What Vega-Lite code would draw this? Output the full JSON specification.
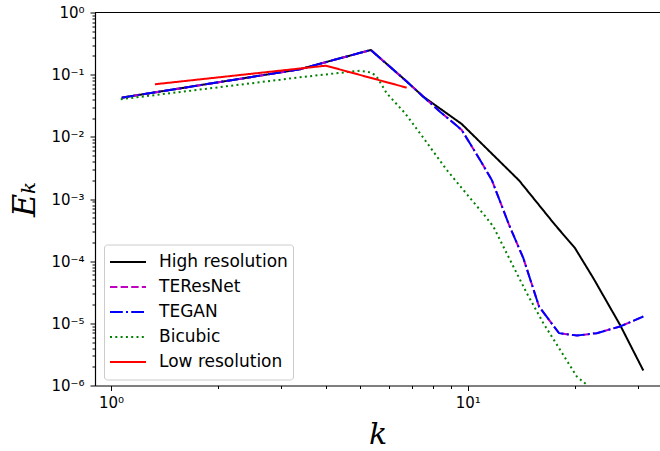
{
  "$schema": "https://vega.github.io/schema/vega-lite/v6.json",
  "width": 565,
  "height": 373,
  "autosize": "none",
  "padding": {"left": 95, "top": 12.5, "right": 0, "bottom": 65.5},
  "background": "white",
  "config": {"view": {"stroke": null}},
  "data": {"values": [
    {"series": "High resolution", "k": 1.072, "E": 0.0427},
    {"series": "High resolution", "k": 3.388, "E": 0.1222},
    {"series": "High resolution", "k": 4.111, "E": 0.166},
    {"series": "High resolution", "k": 5.348, "E": 0.2495},
    {"series": "High resolution", "k": 6.673, "E": 0.0822},
    {"series": "High resolution", "k": 7.506, "E": 0.0443},
    {"series": "High resolution", "k": 9.62, "E": 0.0161},
    {"series": "High resolution", "k": 13.93, "E": 0.00199},
    {"series": "High resolution", "k": 17.57, "E": 0.000384},
    {"series": "High resolution", "k": 19.99, "E": 0.000162},
    {"series": "High resolution", "k": 22.5, "E": 0.0000533},
    {"series": "High resolution", "k": 26.73, "E": 0.00000946},
    {"series": "High resolution", "k": 31.07, "E": 0.00000174},

    {"series": "TEResNet", "k": 1.072, "E": 0.0427},
    {"series": "TEResNet", "k": 3.388, "E": 0.1222},
    {"series": "TEResNet", "k": 4.111, "E": 0.166},
    {"series": "TEResNet", "k": 5.348, "E": 0.2495},
    {"series": "TEResNet", "k": 6.673, "E": 0.0822},
    {"series": "TEResNet", "k": 7.506, "E": 0.0443},
    {"series": "TEResNet", "k": 8.364, "E": 0.0254},
    {"series": "TEResNet", "k": 9.62, "E": 0.0129},
    {"series": "TEResNet", "k": 10.83, "E": 0.00425},
    {"series": "TEResNet", "k": 11.68, "E": 0.00203},
    {"series": "TEResNet", "k": 13.06, "E": 0.000384},
    {"series": "TEResNet", "k": 14.32, "E": 0.000112},
    {"series": "TEResNet", "k": 15.85, "E": 0.0000186},
    {"series": "TEResNet", "k": 18.03, "E": 0.00000695},
    {"series": "TEResNet", "k": 20.25, "E": 0.00000636},
    {"series": "TEResNet", "k": 23.0, "E": 0.00000695},
    {"series": "TEResNet", "k": 26.73, "E": 0.00000889},
    {"series": "TEResNet", "k": 31.07, "E": 0.0000129},

    {"series": "TEGAN", "k": 1.072, "E": 0.0427},
    {"series": "TEGAN", "k": 3.388, "E": 0.1222},
    {"series": "TEGAN", "k": 4.111, "E": 0.166},
    {"series": "TEGAN", "k": 5.348, "E": 0.2495},
    {"series": "TEGAN", "k": 6.673, "E": 0.0822},
    {"series": "TEGAN", "k": 7.506, "E": 0.0443},
    {"series": "TEGAN", "k": 8.364, "E": 0.0254},
    {"series": "TEGAN", "k": 9.62, "E": 0.0129},
    {"series": "TEGAN", "k": 10.83, "E": 0.00425},
    {"series": "TEGAN", "k": 11.68, "E": 0.00203},
    {"series": "TEGAN", "k": 13.06, "E": 0.000384},
    {"series": "TEGAN", "k": 14.32, "E": 0.000112},
    {"series": "TEGAN", "k": 15.85, "E": 0.0000186},
    {"series": "TEGAN", "k": 18.03, "E": 0.00000695},
    {"series": "TEGAN", "k": 20.25, "E": 0.00000636},
    {"series": "TEGAN", "k": 23.0, "E": 0.00000695},
    {"series": "TEGAN", "k": 26.73, "E": 0.00000889},
    {"series": "TEGAN", "k": 31.07, "E": 0.0000129},

    {"series": "Bicubic", "k": 1.065, "E": 0.0402},
    {"series": "Bicubic", "k": 3.388, "E": 0.0908},
    {"series": "Bicubic", "k": 4.111, "E": 0.1026},
    {"series": "Bicubic", "k": 4.99, "E": 0.116},
    {"series": "Bicubic", "k": 5.382, "E": 0.1076},
    {"series": "Bicubic", "k": 5.558, "E": 0.0929},
    {"series": "Bicubic", "k": 5.929, "E": 0.0502},
    {"series": "Bicubic", "k": 6.673, "E": 0.024},
    {"series": "Bicubic", "k": 7.349, "E": 0.01142},
    {"series": "Bicubic", "k": 8.732, "E": 0.00294},
    {"series": "Bicubic", "k": 9.72, "E": 0.0014},
    {"series": "Bicubic", "k": 11.18, "E": 0.000535},
    {"series": "Bicubic", "k": 11.8, "E": 0.00036},
    {"series": "Bicubic", "k": 13.14, "E": 0.000105},
    {"series": "Bicubic", "k": 14.64, "E": 0.0000306},
    {"series": "Bicubic", "k": 16.29, "E": 0.0000101},
    {"series": "Bicubic", "k": 18.15, "E": 0.00000375},
    {"series": "Bicubic", "k": 20.21, "E": 0.0000014},
    {"series": "Bicubic", "k": 21.56, "E": 0.00000103},
    {"series": "Bicubic", "k": 22.5, "E": 0.0000007},

    {"series": "Low resolution", "k": 1.328, "E": 0.0701},
    {"series": "Low resolution", "k": 4.006, "E": 0.1395},
    {"series": "Low resolution", "k": 6.745, "E": 0.0618}
  ]},
  "layer": [
    {
      "mark": {"type": "rule", "color": "#000000", "strokeWidth": 1.2},
      "encoding": {"y": {"datum": 1, "type": "quantitative", "scale": {"type": "log"}}}
    },
    {
      "mark": {"type": "line", "clip": true, "strokeWidth": 2},
      "encoding": {
        "x": {
          "field": "k", "type": "quantitative",
          "scale": {"type": "log", "domain": [0.902, 34.6], "nice": false},
          "axis": {
            "title": "k",
            "titleFont": "DejaVu Serif", "titleFontStyle": "italic", "titleFontWeight": "normal",
            "titleFontSize": 30, "titleColor": "#000000", "titlePadding": 9,
            "values": [1, 2, 3, 4, 5, 6, 7, 8, 9, 10, 20, 30],
            "labelExpr": "datum.value == 1 ? '10⁰' : datum.value == 10 ? '10¹' : ''",
            "labelFont": "DejaVu Sans", "labelFontSize": 15, "labelColor": "#000000",
            "labelPadding": 5, "labelOverlap": false, "labelFlush": false,
            "tickSize": {"condition": {"test": "datum.value == 1 || datum.value == 10", "value": 5}, "value": 3},
            "tickColor": "#000000", "tickWidth": 1,
            "domainColor": "#000000", "domainWidth": 1.2, "grid": false
          }
        },
        "y": {
          "field": "E", "type": "quantitative",
          "scale": {"type": "log", "domain": [0.000001, 1], "nice": false},
          "axis": {
            "title": "Eₖ",
            "titleFont": "DejaVu Serif", "titleFontStyle": "italic", "titleFontWeight": "normal",
            "titleFontSize": 32, "titleColor": "#000000", "titlePadding": 9,
            "values": [0.000001, 0.000002, 0.000003, 0.000004, 0.000005, 0.000006, 0.000007, 0.000008, 0.000009,
                       0.00001, 0.00002, 0.00003, 0.00004, 0.00005, 0.00006, 0.00007, 0.00008, 0.00009,
                       0.0001, 0.0002, 0.0003, 0.0004, 0.0005, 0.0006, 0.0007, 0.0008, 0.0009,
                       0.001, 0.002, 0.003, 0.004, 0.005, 0.006, 0.007, 0.008, 0.009,
                       0.01, 0.02, 0.03, 0.04, 0.05, 0.06, 0.07, 0.08, 0.09,
                       0.1, 0.2, 0.3, 0.4, 0.5, 0.6, 0.7, 0.8, 0.9, 1],
            "labelExpr": "datum.value == 1 ? '10⁰' : datum.value == 0.1 ? '10⁻¹' : datum.value == 0.01 ? '10⁻²' : datum.value == 0.001 ? '10⁻³' : datum.value == 0.0001 ? '10⁻⁴' : datum.value == 0.00001 ? '10⁻⁵' : datum.value == 0.000001 ? '10⁻⁶' : ''",
            "labelFont": "DejaVu Sans", "labelFontSize": 15, "labelColor": "#000000",
            "labelPadding": 6, "labelOverlap": false, "labelFlush": false,
            "tickSize": {"condition": {"test": "datum.value == 1 || datum.value == 0.1 || datum.value == 0.01 || datum.value == 0.001 || datum.value == 0.0001 || datum.value == 0.00001 || datum.value == 0.000001", "value": 5}, "value": 3},
            "tickColor": "#000000", "tickWidth": 1,
            "domainColor": "#000000", "domainWidth": 1.2, "grid": false
          }
        },
        "color": {
          "field": "series", "type": "nominal",
          "scale": {
            "domain": ["High resolution", "TEResNet", "TEGAN", "Bicubic", "Low resolution"],
            "range": ["#000000", "#bf00bf", "#0000ff", "#008000", "#ff0000"]
          },
          "legend": {
            "title": null,
            "orient": "none", "legendX": 9, "legendY": 232,
            "labelFont": "DejaVu Sans", "labelFontSize": 17, "labelColor": "#000000",
            "symbolType": "stroke", "symbolSize": 1296, "symbolStrokeWidth": 2,
            "labelOffset": 12, "rowPadding": 0, "clipHeight": 24.8, "padding": 5,
            "fillColor": "rgba(255,255,255,0.8)", "strokeColor": "#cccccc", "cornerRadius": 3
          }
        },
        "strokeDash": {
          "field": "series", "type": "nominal",
          "scale": {
            "domain": ["High resolution", "TEResNet", "TEGAN", "Bicubic", "Low resolution"],
            "range": [[1, 0], [7.4, 3.2], [12.8, 3.2, 2, 3.2], [2, 3.3], [1, 0]]
          },
          "legend": {
            "title": null,
            "orient": "none", "legendX": 9, "legendY": 232,
            "labelFont": "DejaVu Sans", "labelFontSize": 17, "labelColor": "#000000",
            "symbolType": "stroke", "symbolSize": 1296, "symbolStrokeWidth": 2,
            "labelOffset": 12, "rowPadding": 0, "clipHeight": 24.8, "padding": 5,
            "fillColor": "rgba(255,255,255,0.8)", "strokeColor": "#cccccc", "cornerRadius": 3
          }
        }
      }
    }
  ]
}
